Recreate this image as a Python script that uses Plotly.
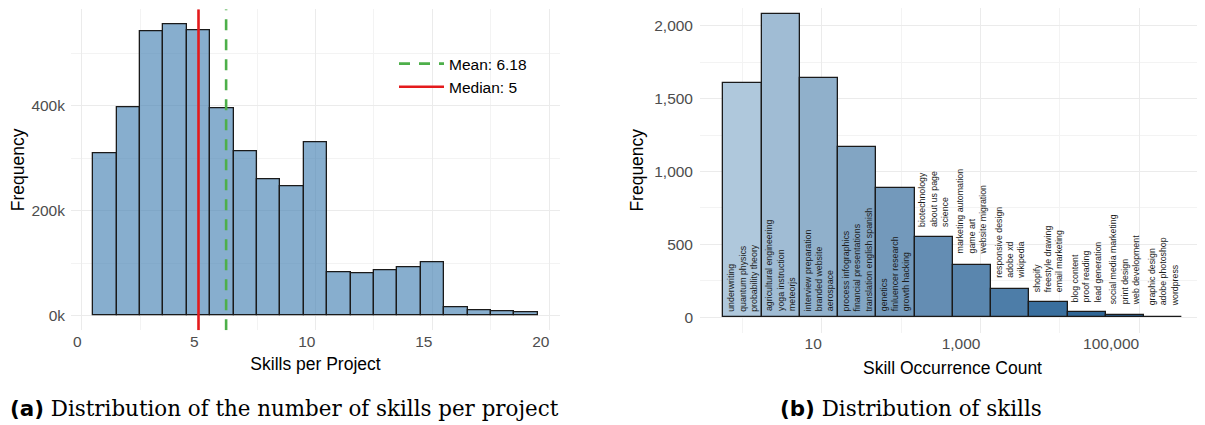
import plotly.graph_objects as go

# ---------------- data ----------------
# (a) histogram: skills per project
skills_per_project = list(range(1, 20))
project_counts = [310000, 398000, 542000, 556000, 543000, 395000, 314000, 260000, 246000,
                  330000, 82000, 81000, 86000, 93000, 102000, 16000, 11000, 8000, 6000]
mean_skills = 6.18
median_skills = 5

# (b) histogram of skill occurrence counts (bins on log10 scale)
bin_centers_log10 = [0.0, 0.482, 0.964, 1.446, 1.928, 2.41, 2.892, 3.374, 3.856, 4.338, 4.82, 5.302]
bin_width_log10 = 0.482
skill_freq = [1609, 2082, 1641, 1167, 888, 549, 362, 197, 103, 34, 16, 4]
bin_skills = [
    ["underwriting", "quantum physics", "probability theory"],
    ["agricultural engineering", "yoga instruction", "meteorjs"],
    ["interview preparation", "branded website", "aerospace"],
    ["process infographics", "financial presentations", "translation english spanish"],
    ["genetics", "finluencer research", "growth hacking"],
    ["biotechnology", "about us page", "science"],
    ["marketing automation", "game art", "website migration"],
    ["responsive design", "adobe xd", "wikipedia"],
    ["shopify", "freestyle drawing", "email marketing"],
    ["blog content", "proof reading", "lead generation"],
    ["social media marketing", "print design", "web development"],
    ["graphic design", "adobe photoshop", "wordpress"],
]
xb_tickvals = [1, 3, 5]
xb_ticktext = ["10", "1,000", "100,000"]

# ---------------- styles ----------------
# the page body has an 8px margin, so the figure is drawn 8px in from the top-left
OFF = 8
W, H = 1205 - OFF, 425 - OFF


def fx(px):  # page x pixel -> paper fraction
    return (px - OFF) / W


def fy(py):  # page y pixel -> paper fraction
    return 1 - (py - OFF) / H


FONT = "Liberation Sans, Arial, sans-serif"
TICK_COL = "#4D4D4D"
GRID = "#EBEBEB"
MINOR_GRID = "#F3F3F3"
bar_colors_b = ["#AFC8DC", "#A0BCD4", "#90B0CB", "#82A5C3", "#7399BB", "#648DB3",
                "#5A86AE", "#4D7DA8", "#3A6F9E", "#2F6696", "#285E8E", "#215687"]

ya_lo, ya_hi = -27800, 583800

fig = go.Figure()

fig.add_trace(go.Bar(
    x=skills_per_project, y=project_counts, width=1,
    marker=dict(color="rgba(70,130,180,0.65)", line=dict(color="#1a1a1a", width=1.3)),
    xaxis="x", yaxis="y", showlegend=False, hoverinfo="x+y"))

fig.add_trace(go.Scatter(
    x=[mean_skills, mean_skills], y=[ya_lo, ya_hi], mode="lines",
    line=dict(color="#4DAF4A", width=2.6, dash="11px,9px"),
    name="Mean: %.2f" % mean_skills, xaxis="x", yaxis="y"))
fig.add_trace(go.Scatter(
    x=[median_skills, median_skills], y=[ya_lo, ya_hi], mode="lines",
    line=dict(color="#E41A1C", width=2.6),
    name="Median: %d" % median_skills, xaxis="x", yaxis="y"))

fig.add_trace(go.Bar(
    x=bin_centers_log10, y=skill_freq, width=bin_width_log10,
    marker=dict(color=bar_colors_b, line=dict(color="#1a1a1a", width=1.3)),
    xaxis="x2", yaxis="y2", showlegend=False, hoverinfo="y"))

annotations = []
for i, (xc, f, names) in enumerate(zip(bin_centers_log10, skill_freq, bin_skills)):
    inside = i < 5
    annotations.append(dict(
        x=xc, y=0 if inside else f, xref="x2", yref="y2",
        text="<br>".join(names), showarrow=False, textangle=-90,
        xanchor="center", yanchor="bottom", align="left",
        yshift=4 if inside else 8,
        font=dict(family=FONT, size=8.8, color="#1a1a1a")))

cap_font = dict(family="DejaVu Serif, Liberation Serif, serif", size=21.4, color="black")
bold_style = "font-family:'DejaVu Sans';font-weight:bold"
annotations.append(dict(
    x=fx(284), y=fy(408), xref="paper", yref="paper", showarrow=False,
    xanchor="center", yanchor="middle",
    text="<span style=\"%s\">(a)</span> Distribution of the number of skills per project" % bold_style,
    font=cap_font))
annotations.append(dict(
    x=fx(911), y=fy(408), xref="paper", yref="paper", showarrow=False,
    xanchor="center", yanchor="middle",
    text="<span style=\"%s\">(b)</span> Distribution of skills" % bold_style,
    font=cap_font))

axis_common = dict(showline=False, zeroline=False, ticks="", showgrid=True,
                   gridcolor=GRID, gridwidth=1.1, automargin=False,
                   tickfont=dict(family=FONT, size=15.5, color=TICK_COL),
                   title_font=dict(family=FONT, size=17.5, color="black"))

fig.update_layout(
    width=W, height=H, margin=dict(l=0, r=0, t=0, b=0),
    paper_bgcolor="white", plot_bgcolor="white",
    bargap=0,
    xaxis=dict(domain=[fx(71), fx(560)], range=[-0.45, 20.45], anchor="y",
               tickvals=[0, 5, 10, 15, 20], ticklabelposition="outside left",
               minor=dict(dtick=2.5, tick0=0, showgrid=True, gridcolor=MINOR_GRID, gridwidth=0.7),
               title=dict(text="Skills per Project", standoff=8), **axis_common),
    yaxis=dict(domain=[fy(330.3), fy(9.3)], range=[ya_lo, ya_hi], anchor="x",
               tickvals=[0, 200000, 400000], ticktext=["0k", "200k", "400k"],
               ticklabelstandoff=5,
               minor=dict(dtick=100000, tick0=0, showgrid=True, gridcolor=MINOR_GRID, gridwidth=0.7),
               title=dict(text="Frequency", standoff=6), **axis_common),
    xaxis2=dict(domain=[fx(700), 1.0], range=[-0.535, 5.83], anchor="y2",
                tickvals=xb_tickvals, ticktext=xb_ticktext, ticklabelposition="outside left",
                minor=dict(dtick=1, tick0=0, showgrid=True, gridcolor=MINOR_GRID, gridwidth=0.7),
                title=dict(text="Skill Occurrence Count", standoff=10), **axis_common),
    yaxis2=dict(domain=[fy(332.5), 1.0], range=[-104, 2121], anchor="x2",
                tickvals=[0, 500, 1000, 1500, 2000], tickformat=",",
                ticklabelstandoff=6,
                minor=dict(dtick=250, tick0=0, showgrid=True, gridcolor=MINOR_GRID, gridwidth=0.7),
                title=dict(text="Frequency", standoff=6), **axis_common),
    legend=dict(x=fx(394), y=fy(47), xanchor="left", yanchor="top",
                bgcolor="rgba(0,0,0,0)", borderwidth=0,
                font=dict(family=FONT, size=15.5, color="black"),
                itemwidth=45, tracegroupgap=0),
    annotations=annotations,
    font=dict(family=FONT),
)

fig.write_html("out.html")
